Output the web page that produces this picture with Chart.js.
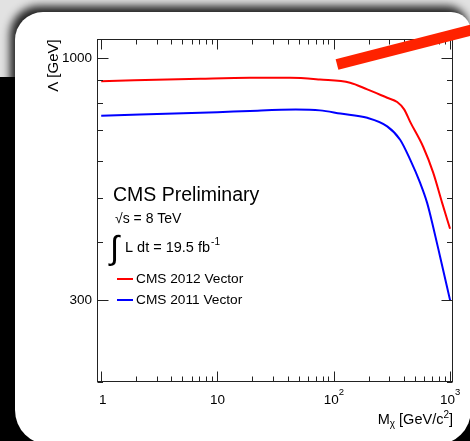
<!DOCTYPE html>
<html>
<head>
<meta charset="utf-8">
<script src="https://cdn.jsdelivr.net/npm/chart.js@4/dist/chart.umd.min.js"></script>
<style>
  html, body { margin: 0; padding: 0; width: 470px; height: 441px; overflow: hidden; background: #000; }
  #bgTop { position: absolute; left: 0; top: 0; width: 470px; height: 77px; background: #e2e2e2; }
  #panel {
    position: absolute; left: 15px; top: 12px; width: 456px; height: 433px;
    background: #fff; border-radius: 28px 20px 35px 35px;
    box-shadow: -4px -5px 9px 1px rgba(0,0,0,0.85);
  }
  #chart { position: absolute; left: 0; top: 0; }
  #marker {
    position: absolute; left: 337px; top: 59px; width: 150px; height: 11px;
    background: #ff2200; transform-origin: 0 50%; transform: rotate(-14.4deg);
  }
</style>
</head>
<body>
<div id="bgTop"></div>
<div id="panel"></div>
<canvas id="chart" width="470" height="441"></canvas>
<div id="marker"></div>
<script>
// Dark-matter mass points and Lambda limits for each dataset
const mass2012   = [1, 7.1, 19, 42, 76, 138, 194, 288, 351, 403, 454, 587, 716, 855, 1000];
const lambda2012 = [893, 904, 908, 908, 900, 886, 857, 822, 805, 776, 729, 644, 566, 487, 428];
const mass2011   = [1, 10, 19, 47, 76, 114, 194, 288, 372, 454, 553, 635, 716, 822, 1000];
const lambda2011 = [752, 765, 770, 775, 772, 760, 744, 713, 667, 604, 538, 487, 432, 372, 300];

const seriesLabels = ['CMS 2012 Vector', 'CMS 2011 Vector'];
const seriesColors = ['#ff0000', '#0000ff'];

// Tick positions and the values that carry a label
const xTickValues = [1,2,3,4,5,6,7,8,9,10,20,30,40,50,60,70,80,90,100,200,300,400,500,600,700,800,900,1000];
const xLabelled   = [1, 10, 100, 1000];
const yTickValues = [200, 300, 400, 500, 600, 700, 800, 900, 1000];
const yLabelled   = [300, 1000];

const FONT = '"Liberation Sans", Arial, Helvetica, sans-serif';
const font = s => s + 'px ' + FONT;

function toPoints(xs, ys) { return xs.map((v, i) => ({ x: v, y: ys[i] })); }

// ROOT-style frame: inward ticks on all four sides, labels, titles, text block and legend
const rootFrame = {
  id: 'rootFrame',
  afterDatasetsDraw(chart) {
    const { ctx, chartArea: a, scales: { x, y } } = chart;
    ctx.save();
    ctx.strokeStyle = '#222';
    ctx.lineWidth = 1;
    const L = Math.round(a.left) + 0.5, R = Math.round(a.right) - 0.5;
    const T = Math.round(a.top) + 0.5, B = Math.round(a.bottom) - 0.5;
    ctx.strokeRect(L, T, R - L, B - T);

    ctx.beginPath();
    x.ticks.forEach(t => {
      const px = Math.round(x.getPixelForValue(t.value)) + 0.5;
      const len = xLabelled.includes(t.value) ? 10 : 5;
      ctx.moveTo(px, B); ctx.lineTo(px, B - len);
      ctx.moveTo(px, T); ctx.lineTo(px, T + len);
    });
    y.ticks.forEach(t => {
      const py = Math.round(y.getPixelForValue(t.value)) + 0.5;
      const len = yLabelled.includes(t.value) ? 11 : 5.5;
      ctx.moveTo(L, py); ctx.lineTo(L + len, py);
      ctx.moveTo(R, py); ctx.lineTo(R - len, py);
    });
    ctx.stroke();

    // x tick labels with superscript exponents
    ctx.fillStyle = '#000';
    ctx.textBaseline = 'alphabetic';
    ctx.textAlign = 'left';
    xLabelled.forEach(v => {
      const px = x.getPixelForValue(v);
      const exp = Math.round(Math.log10(v));
      const base = exp <= 1 ? String(v) : '10';
      const sup = exp <= 1 ? '' : String(exp);
      ctx.font = font(13.5);
      const wb = ctx.measureText(base).width;
      ctx.font = font(9.5);
      const ws = sup ? ctx.measureText(sup).width : 0;
      const x0 = px - (wb + ws) / 2 + (exp === 0 ? 1.5 : 0);
      ctx.font = font(13.5);
      ctx.fillText(base, x0, 404);
      if (sup) { ctx.font = font(9.5); ctx.fillText(sup, x0 + wb, 395); }
    });

    // x axis title: M_chi [GeV/c^2], right-aligned to the frame
    const parts = [
      { t: 'M', s: 14.5, dy: 0 },
      { t: 'χ', s: 10, dy: 3 },
      { t: ' [GeV/c', s: 14.5, dy: 0 },
      { t: '2', s: 10, dy: -6 },
      { t: ']', s: 14.5, dy: 0 }
    ];
    let tw = 0;
    parts.forEach(p => { ctx.font = font(p.s); p.w = ctx.measureText(p.t).width; tw += p.w; });
    let cx = a.right - tw;
    parts.forEach(p => { ctx.font = font(p.s); ctx.fillText(p.t, cx, 424 + p.dy); cx += p.w; });

    // y axis title
    ctx.save();
    ctx.translate(58, a.top);
    ctx.rotate(-Math.PI / 2);
    ctx.textAlign = 'right';
    ctx.font = font(15);
    ctx.fillText('Λ [GeV]', 0, 0);
    ctx.restore();

    // text block
    ctx.textAlign = 'left';
    ctx.font = font(19.5);
    ctx.fillText('CMS Preliminary', 113, 201);
    ctx.font = font(14);
    ctx.fillText('√s = 8 TeV', 115, 223);
    ctx.font = font(33);
    ctx.fillText('∫', 110, 259);
    ctx.font = font(14.5);
    ctx.fillText('L dt = 19.5 fb', 125, 252);
    const wl = ctx.measureText('L dt = 19.5 fb').width;
    ctx.font = font(10);
    ctx.fillText('-1', 125 + wl + 1, 245);

    // legend
    const rows = [279, 300];
    chart.data.datasets.forEach((ds, i) => {
      const yy = rows[i];
      ctx.strokeStyle = ds.borderColor;
      ctx.lineWidth = 2;
      ctx.beginPath();
      ctx.moveTo(117, yy); ctx.lineTo(133, yy);
      ctx.stroke();
      ctx.fillStyle = '#000';
      ctx.font = font(13.7);
      ctx.textBaseline = 'middle';
      ctx.fillText(ds.label, 136, yy + 0.5);
      ctx.textBaseline = 'alphabetic';
    });
    ctx.restore();
  }
};

new Chart(document.getElementById('chart'), {
  type: 'line',
  data: {
    datasets: [
      { label: seriesLabels[0], data: toPoints(mass2012, lambda2012), borderColor: seriesColors[0] },
      { label: seriesLabels[1], data: toPoints(mass2011, lambda2011), borderColor: seriesColors[1] }
    ]
  },
  options: {
    responsive: false,
    animation: false,
    devicePixelRatio: 1,
    layout: { padding: { left: 0, right: 17, top: 39.3, bottom: 0 } },
    elements: {
      point: { radius: 0 },
      line: { borderWidth: 2, fill: false, cubicInterpolationMode: 'monotone' }
    },
    plugins: { legend: { display: false }, tooltip: { enabled: false } },
    scales: {
      x: {
        type: 'logarithmic',
        min: 0.92, max: 1060,
        afterBuildTicks: s => { s.ticks = xTickValues.map(v => ({ value: v })); },
        afterFit: s => { s.height = 59.5; },
        ticks: { display: false },
        grid: { display: false, drawTicks: false },
        border: { display: false }
      },
      y: {
        type: 'logarithmic',
        min: 200, max: 1100,
        afterBuildTicks: s => { s.ticks = yTickValues.map(v => ({ value: v })); },
        afterFit: s => { s.width = 97; },
        ticks: {
          autoSkip: false,
          padding: 5,
          color: '#000',
          font: { family: FONT, size: 13.5 },
          callback: v => yLabelled.includes(v) ? String(v) : ''
        },
        grid: { display: false, drawTicks: false },
        border: { display: false }
      }
    }
  },
  plugins: [rootFrame]
});
</script>
</body>
</html>
